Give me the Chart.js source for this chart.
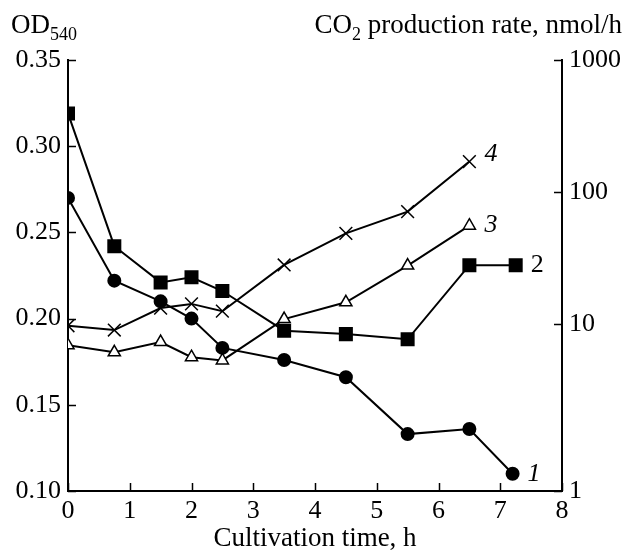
<!DOCTYPE html>
<html>
<head>
<meta charset="utf-8">
<script src="https://cdn.jsdelivr.net/npm/chart.js@4"></script>
<style>
  body { margin: 0; background: #fff; }
  canvas { display: block; }
</style>
</head>
<body>
<canvas id="myChart" width="625" height="550"></canvas>
<script>
// values
const time1 = [0, 0.75, 1.5, 2, 2.5, 3.5, 4.5, 5.5, 6.5, 7.2];
const od1 = [0.270, 0.222, 0.210, 0.200, 0.183, 0.176, 0.166, 0.133, 0.136, 0.110];
const time2 = [0, 0.75, 1.5, 2, 2.5, 3.5, 4.5, 5.5, 6.5, 7.25];
const od2 = [0.319, 0.242, 0.221, 0.224, 0.216, 0.193, 0.191, 0.188, 0.231, 0.231];
const time34 = [0, 0.75, 1.5, 2, 2.5, 3.5, 4.5, 5.5, 6.5];
const co2_3 = [6.9, 6.1, 7.3, 5.6, 5.3, 10.9, 14.6, 27.7, 55.6];
const co2_4 = [9.7, 9.0, 13.2, 14.2, 12.5, 28.0, 48.6, 71.0, 170];
const seriesLabels = ['1', '2', '3', '4'];

const xTicks = [0, 1, 2, 3, 4, 5, 6, 7, 8];
const odTicks = [0.10, 0.15, 0.20, 0.25, 0.30, 0.35];
const co2TickValues = [0.543, 10, 100, 1000]; // bottom of the printed axis is labelled 1
const co2TickLabels = ['1', '10', '100', '1000'];

const FONT = '"Liberation Serif", "Times New Roman", serif';

function pts(xs, ys) {
  return xs.map((x, i) => ({x: x, y: ys[i]}));
}

const inwardTicks = {
  id: 'inwardTicks',
  afterDraw(chart) {
    const c = chart.ctx, a = chart.chartArea;
    const sx = chart.scales.x, sy = chart.scales.y, sy2 = chart.scales.y2;
    c.save();
    c.strokeStyle = '#000';
    c.lineWidth = 1.5;
    c.beginPath();
    xTicks.forEach(v => {
      const px = Math.round(sx.getPixelForValue(v)) + 0.5;
      c.moveTo(px, a.bottom); c.lineTo(px, a.bottom - 8);
    });
    odTicks.forEach(v => {
      const py = Math.round(sy.getPixelForValue(v)) + 0.5;
      c.moveTo(a.left, py); c.lineTo(a.left + 8, py);
    });
    co2TickValues.forEach(v => {
      const py = Math.round(sy2.getPixelForValue(v)) + 0.5;
      c.moveTo(a.right, py); c.lineTo(a.right - 8, py);
    });
    c.stroke();

    // axis titles
    c.fillStyle = '#000';
    c.textBaseline = 'alphabetic';
    c.font = '27px ' + FONT;
    c.textAlign = 'left';
    c.fillText('OD', 11, 33);
    let w = c.measureText('OD').width;
    c.font = '18px ' + FONT;
    c.fillText('540', 11 + w, 40);

    c.font = '27px ' + FONT;
    const t1 = 'CO', t2 = ' production rate, nmol/h';
    const w1 = c.measureText(t1).width, w3 = c.measureText(t2).width;
    c.font = '18px ' + FONT;
    const w2 = c.measureText('2').width;
    const start = 622 - (w1 + w2 + w3);
    c.font = '27px ' + FONT;
    c.fillText(t1, start, 33);
    c.font = '18px ' + FONT;
    c.fillText('2', start + w1, 40);
    c.font = '27px ' + FONT;
    c.fillText(t2, start + w1 + w2, 33);

    c.textAlign = 'center';
    c.fillText('Cultivation time, h', (a.left + a.right) / 2, 546);

    // curve numbers next to the last point
    c.textAlign = 'left';
    c.textBaseline = 'middle';
    chart.data.datasets.forEach((ds, i) => {
      const meta = chart.getDatasetMeta(i);
      const last = meta.data[meta.data.length - 1];
      c.font = (i === 1 ? '' : 'italic ') + '26px ' + FONT;
      c.fillText(seriesLabels[i], last.x + 15, last.y + (i === 3 ? -7 : 0));
    });
    c.restore();
  }
};

const common = {
  borderColor: '#000',
  backgroundColor: '#000',
  pointBorderColor: '#000',
  borderWidth: 2,
  showLine: true,
  tension: 0
};

new Chart(document.getElementById('myChart'), {
  type: 'scatter',
  data: {
    datasets: [
      Object.assign({}, common, {label: seriesLabels[0], data: pts(time1, od1), yAxisID: 'y',
        pointStyle: 'circle', pointRadius: 6, pointBackgroundColor: '#000'}),
      Object.assign({}, common, {label: seriesLabels[1], data: pts(time2, od2), yAxisID: 'y',
        pointStyle: 'rect', pointRadius: 8.5, pointBackgroundColor: '#000'}),
      Object.assign({}, common, {label: seriesLabels[2], data: pts(time34, co2_3), yAxisID: 'y2',
        pointStyle: 'triangle', pointRadius: 7, pointBackgroundColor: '#fff', pointBorderWidth: 1.5}),
      Object.assign({}, common, {label: seriesLabels[3], data: pts(time34, co2_4), yAxisID: 'y2',
        pointStyle: 'crossRot', pointRadius: 9, pointBorderWidth: 1.5})
    ]
  },
  options: {
    responsive: false,
    devicePixelRatio: 1,
    animation: false,
    layout: {padding: {top: 60, left: 0, right: 0, bottom: 0}},
    plugins: {legend: {display: false}, tooltip: {enabled: false}},
    scales: {
      x: {
        type: 'linear', min: 0, max: 8,
        afterBuildTicks: s => { s.ticks = xTicks.map(v => ({value: v})); },
        afterFit: s => { s.height = 59; },
        grid: {display: false, drawTicks: false},
        border: {display: true, color: '#000', width: 2},
        ticks: {color: '#000', padding: 5, font: {family: FONT, size: 26}, maxRotation: 0}
      },
      y: {
        type: 'linear', position: 'left', min: 0.10, max: 0.35,
        afterBuildTicks: s => { s.ticks = odTicks.map(v => ({value: v})); },
        afterFit: s => { s.width = 68; },
        grid: {display: false, drawTicks: false},
        border: {display: true, color: '#000', width: 2},
        ticks: {color: '#000', padding: 7, font: {family: FONT, size: 26},
          callback: v => v.toFixed(2)}
      },
      y2: {
        type: 'logarithmic', position: 'right', min: co2TickValues[0], max: 1000,
        afterBuildTicks: s => { s.ticks = co2TickValues.map(v => ({value: v})); },
        afterFit: s => { s.width = 63; },
        grid: {display: false, drawTicks: false},
        border: {display: true, color: '#000', width: 2},
        ticks: {color: '#000', padding: 7, font: {family: FONT, size: 26},
          callback: (v, i) => co2TickLabels[i]}
      }
    }
  },
  plugins: [inwardTicks]
});
</script>
</body>
</html>
